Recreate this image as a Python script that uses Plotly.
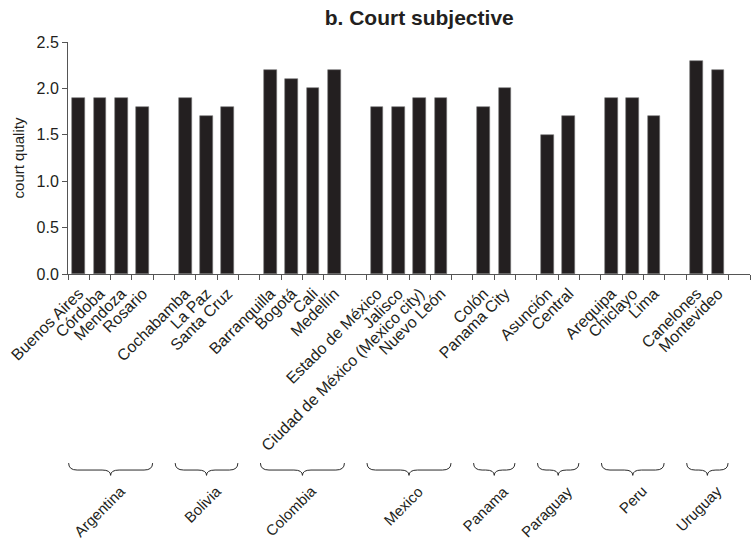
import plotly.graph_objects as go

# Regions (countries) and their sub-national units, in plotting order
countries = ["Argentina", "Bolivia", "Colombia", "Mexico", "Panama", "Paraguay", "Peru", "Uruguay"]
argentina_units = ["Buenos Aires", "Córdoba", "Mendoza", "Rosario"]
bolivia_units = ["Cochabamba", "La Paz", "Santa Cruz"]
colombia_units = ["Barranquilla", "Bogotá", "Cali", "Medellín"]
mexico_units = ["Estado de México", "Jalisco", "Ciudad de México (Mexico city)", "Nuevo León"]
panama_units = ["Colón", "Panama City"]
paraguay_units = ["Asunción", "Central"]
peru_units = ["Arequipa", "Chiclayo", "Lima"]
uruguay_units = ["Canelones", "Montevideo"]

# Subjective court quality per unit
argentina_vals = [1.9, 1.9, 1.9, 1.8]
bolivia_vals = [1.9, 1.7, 1.8]
colombia_vals = [2.2, 2.1, 2.0, 2.2]
mexico_vals = [1.8, 1.8, 1.9, 1.9]
panama_vals = [1.8, 2.0]
paraguay_vals = [1.5, 1.7]
peru_vals = [1.9, 1.9, 1.7]
uruguay_vals = [2.3, 2.2]

y_ticks = [0.0, 0.5, 1.0, 1.5, 2.0, 2.5]

groups = [
    argentina_units, bolivia_units, colombia_units, mexico_units,
    panama_units, paraguay_units, peru_units, uruguay_units,
]
group_vals = [
    argentina_vals, bolivia_vals, colombia_vals, mexico_vals,
    panama_vals, paraguay_vals, peru_vals, uruguay_vals,
]

# Lay the bars out on a numeric axis, leaving one empty slot between countries
xs, ys, labels, spans = [], [], [], []
pos = 0
for units, vals in zip(groups, group_vals):
    start = pos
    for u, v in zip(units, vals):
        xs.append(pos)
        ys.append(v)
        labels.append(u)
        pos += 1
    spans.append((start, pos - 1))
    pos += 1
n_slots = pos - 1

FONT = "Liberation Sans, Arial, Helvetica, sans-serif"
INK = "#231f20"
AXIS = "#555555"

fig = go.Figure(
    go.Bar(
        x=xs,
        y=ys,
        width=0.6,
        marker=dict(color=INK, line=dict(color="#777777", width=0.6)),
        hoverinfo="skip",
    )
)

# Curly braces and country names under each group
brace_top = -0.815
brace_mid = -0.845
brace_tip = -0.868
shapes = []
annotations = []
for name, (a, b) in zip(countries, spans):
    x0 = a - 0.47
    x1 = b + 0.47
    xc = (a + b) / 2
    q = 0.4
    path = (
        f"M {x0},{brace_top} Q {x0},{brace_mid} {x0 + q},{brace_mid} "
        f"L {xc - q},{brace_mid} Q {xc},{brace_mid} {xc},{brace_tip} "
        f"Q {xc},{brace_mid} {xc + q},{brace_mid} "
        f"L {x1 - q},{brace_mid} Q {x1},{brace_mid} {x1},{brace_top}"
    )
    shapes.append(dict(
        type="path", xref="x", yref="paper", path=path,
        line=dict(color="#2a2a2a", width=1),
    ))
    # rotated label hangs from just right of the brace point
    annotations.append(dict(
        x=xc + 0.95, y=-0.885, xref="x", yref="paper",
        text=name, showarrow=False, textangle=-45,
        xanchor="right", yanchor="top",
        font=dict(family=FONT, size=15, color=INK),
    ))

fig.update_layout(
    width=753,
    height=541,
    margin=dict(l=68, r=3, t=42, b=267),
    paper_bgcolor="white",
    plot_bgcolor="white",
    showlegend=False,
    bargap=0,
    font=dict(family=FONT, size=16, color=INK),
    title=dict(
        text="<b>b. Court subjective</b>",
        x=0.515, xref="paper", xanchor="center",
        y=1 - 18 / 541, yanchor="middle",
        font=dict(family=FONT, size=21, color=INK),
    ),
    shapes=shapes,
    annotations=annotations,
)

fig.update_xaxes(
    range=[-0.5, n_slots + 0.5],
    tickmode="array",
    tickvals=xs,
    ticktext=labels,
    tickangle=-45,
    ticks="",
    ticklabelstandoff=3,
    showline=True,
    linecolor=AXIS,
    linewidth=1,
    showgrid=False,
    zeroline=False,
    tickfont=dict(family=FONT, size=16, color=INK),
    minor=dict(
        tickvals=[i - 0.5 for i in range(n_slots + 2)],
        ticks="outside",
        ticklen=5,
        tickcolor=AXIS,
        tickwidth=1,
        showgrid=False,
    ),
)

fig.update_yaxes(
    range=[0, 2.5],
    tickmode="array",
    tickvals=y_ticks,
    tickformat=".1f",
    ticks="outside",
    ticklen=5,
    tickcolor=AXIS,
    showline=True,
    linecolor=AXIS,
    linewidth=1,
    showgrid=False,
    zeroline=False,
    tickfont=dict(family=FONT, size=16, color=INK),
    title=dict(text="court quality", standoff=8,
               font=dict(family=FONT, size=15, color=INK)),
)

fig.write_html("out.html")
